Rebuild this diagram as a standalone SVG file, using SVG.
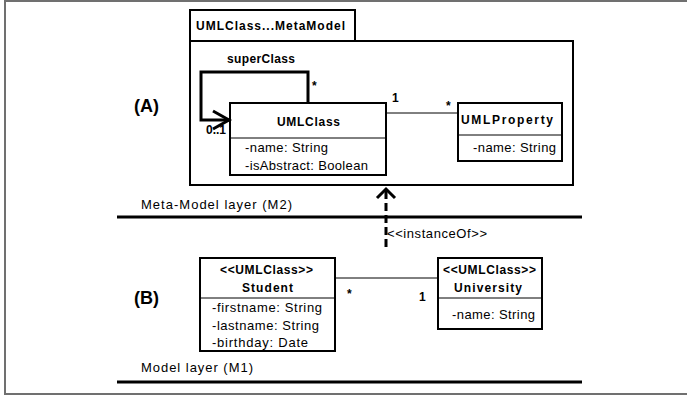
<svg xmlns="http://www.w3.org/2000/svg" width="687" height="397" viewBox="0 0 687 397">
<defs>
<style>
text { font-family: "Liberation Sans", Arial, sans-serif; fill: #000; }
.b { font-weight: bold; font-size: 12px; }
.n { font-size: 13px; }
.big { font-weight: bold; font-size: 18px; }
.box { fill: #fff; stroke: #000; stroke-width: 2; }
.ln { stroke: #000; stroke-width: 1; fill: none; }
.thick { stroke: #000; stroke-width: 3; fill: none; }
</style>
</defs>
<rect x="5" y="1" width="690" height="393" fill="#fff" stroke="#707070" stroke-width="2"/>

<text class="big" x="134" y="112">(A)</text>
<text class="big" x="134" y="304">(B)</text>

<g id="package">
<rect class="box" x="190" y="10" width="165" height="31"/>
<rect class="box" x="190" y="41" width="383" height="144"/>
<text class="b" x="196" y="30" textLength="149" lengthAdjust="spacing">UMLClass...MetaModel</text>
</g>

<g id="umlclass">
<rect class="box" x="230" y="103" width="156" height="72"/>
<line class="ln" x1="230" y1="138" x2="386" y2="138" stroke-width="2"/>
<text class="b" x="277" y="126" textLength="63" lengthAdjust="spacing">UMLClass</text>
<text class="n" x="245" y="152" textLength="83" lengthAdjust="spacing">-name: String</text>
<text class="n" x="245" y="170" textLength="123" lengthAdjust="spacing">-isAbstract: Boolean</text>
</g>

<g id="umlproperty">
<rect class="box" x="458" y="103" width="104" height="58"/>
<line class="ln" x1="458" y1="135" x2="562" y2="135" stroke-width="2"/>
<text class="b" x="461" y="124" textLength="92" lengthAdjust="spacing">UMLProperty</text>
<text class="n" x="473" y="152" textLength="83" lengthAdjust="spacing">-name: String</text>
</g>

<g id="student">
<rect class="box" x="200" y="258" width="135" height="93"/>
<line class="ln" x1="200" y1="298" x2="335" y2="298" stroke-width="2"/>
<text class="b" x="220" y="274" textLength="93" lengthAdjust="spacing">&lt;&lt;UMLClass&gt;&gt;</text>
<text class="b" x="242" y="292" textLength="51" lengthAdjust="spacing">Student</text>
<text class="n" x="212" y="312" textLength="110" lengthAdjust="spacing">-firstname: String</text>
<text class="n" x="212" y="330" textLength="107" lengthAdjust="spacing">-lastname: String</text>
<text class="n" x="212" y="347" textLength="96" lengthAdjust="spacing">-birthday: Date</text>
</g>

<g id="university">
<rect class="box" x="438" y="258" width="104" height="71"/>
<line class="ln" x1="438" y1="298" x2="542" y2="298" stroke-width="2"/>
<text class="b" x="443" y="274" textLength="93" lengthAdjust="spacing">&lt;&lt;UMLClass&gt;&gt;</text>
<text class="b" x="454" y="292" textLength="68" lengthAdjust="spacing">University</text>
<text class="n" x="452" y="319" textLength="83" lengthAdjust="spacing">-name: String</text>
</g>

<g id="layers">
<text class="n" x="141" y="209" textLength="151" lengthAdjust="spacing">Meta-Model layer (M2)</text>
<line x1="117" y1="217" x2="582" y2="217" stroke="#000" stroke-width="3"/>
<text class="n" x="141" y="372" textLength="112" lengthAdjust="spacing">Model layer (M1)</text>
<line x1="117" y1="382" x2="582" y2="382" stroke="#000" stroke-width="3"/>
</g>

<g id="connectors">
<polyline class="thick" points="308,103 308,72 201,72 201,120 229,120"/>
<polyline class="thick" points="213,111 229,120 213,129"/>
<text class="b" x="227" y="63" textLength="68" lengthAdjust="spacing">superClass</text>
<text class="b" x="312" y="90">*</text>
<text class="b" x="206" y="134">0..1</text>

<line class="ln" x1="386" y1="113" x2="458" y2="113"/>
<text class="b" x="392" y="102">1</text>
<text class="b" x="446" y="110">*</text>

<line x1="386" y1="247" x2="386" y2="191" stroke="#000" stroke-width="3" stroke-dasharray="8,4"/>
<polyline class="thick" points="377,198 386,189 395,198"/>
<text class="n" x="387" y="238" textLength="100" lengthAdjust="spacing">&lt;&lt;instanceOf&gt;&gt;</text>

<line class="ln" x1="335" y1="278" x2="438" y2="278"/>
<text class="b" x="347" y="298">*</text>
<text class="b" x="419" y="301">1</text>
</g>
</svg>
